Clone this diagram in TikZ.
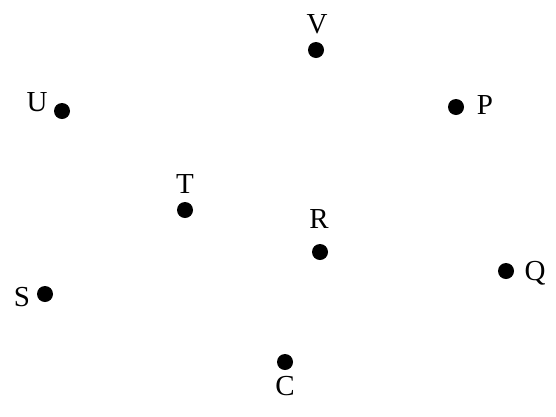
\documentclass[tikz,border=0pt]{standalone}
\usepackage{fontspec}
\setmainfont{Liberation Serif}
\begin{document}
\begin{tikzpicture}[x=1pt,y=-1pt,
  pt/.style={circle,fill=black,inner sep=0pt,minimum size=16pt},
  lbl/.style={inner sep=0pt,font=\fontsize{29}{30}\selectfont}]
\useasboundingbox (0,0) rectangle (556,416);
\node[pt] (v) at (316,50) {};
\node[lbl] (vl) at (317,24) {V};
\node[pt] (u) at (62,111) {};
\node[lbl] (ul) at (37,102) {U};
\node[pt] (p) at (456,107) {};
\node[lbl] (pl) at (485,105) {P};
\node[pt] (t) at (185,210) {};
\node[lbl] (tl) at (185,184) {T};
\node[pt] (r) at (320,252) {};
\node[lbl] (rl) at (319,219) {R};
\node[pt] (s) at (45,294) {};
\node[lbl] (sl) at (22,297) {S};
\node[pt] (q) at (506,271) {};
\node[lbl] (ql) at (535,273) {Q};
\node[pt] (c) at (285,362) {};
\node[lbl] (cl) at (285,386) {C};
\end{tikzpicture}
\end{document}
